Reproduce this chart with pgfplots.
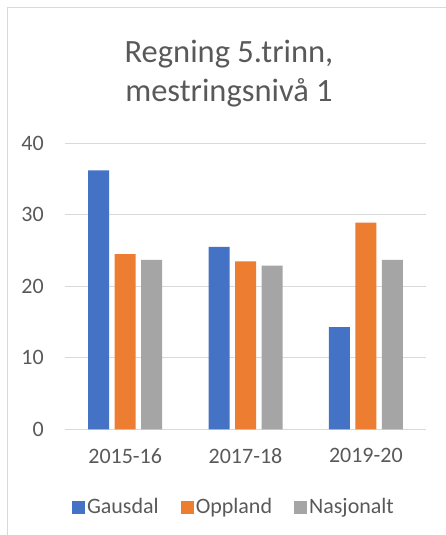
\documentclass[border=0pt]{standalone}
\usepackage{pgfplots}
\pgfplotsset{compat=1.18}
\usepackage{fontspec}
\setmainfont{Carlito}
\definecolor{cblue}{HTML}{4472C4}
\definecolor{corange}{HTML}{ED7D31}
\definecolor{cgray}{HTML}{A5A5A5}
\definecolor{ctext}{HTML}{595959}
\definecolor{cgrid}{HTML}{D9D9D9}
\begin{document}
\begin{tikzpicture}
\useasboundingbox (0pt,0pt) rectangle (445pt,535pt);
\draw[cgrid, line width=1.5pt] (7.5pt,-2pt) -- (7.5pt,527.5pt) -- (447pt,527.5pt);
\node[anchor=base, text=ctext, font=\fontsize{32.5}{38}\selectfont] at (229pt,472pt) {Regning 5.trinn,};
\node[anchor=base, text=ctext, font=\fontsize{32.5}{38}\selectfont] at (229pt,433.5pt) {mestringsnivå 1};
\begin{axis}[
  at={(65pt,105.7pt)}, anchor=south west,
  scale only axis, width=361pt, height=286pt,
  ymin=0, ymax=40, xmin=-0.5, xmax=2.5,
  ybar=5.5pt, bar width=21pt,
  axis line style={draw=none},
  major tick length=0pt,
  ytick={0,10,20,30,40},
  xtick={0,1,2}, xticklabels={2015-16,2017-18,2019-20},
  ymajorgrids, grid style={cgrid, line width=1.2pt},
  /pgf/number format/assume math mode=true,
  tick label style={text=ctext, font=\fontsize{22}{26}\selectfont},
  yticklabel style={anchor=east, inner sep=0pt, xshift=-21pt},
  xticklabel style={anchor=north, inner sep=0pt, yshift=-19pt},
  legend columns=3,
  legend style={at={(0.468,-0.272)}, anchor=center, draw=none, fill=none,
    font=\fontsize{22}{26}\selectfont, text=ctext,
    nodes={inner sep=2pt},
    /tikz/every even column/.append style={column sep=20pt}},
  legend image code/.code={\fill[#1,draw=none] (0pt,-6.5pt) rectangle (13pt,6.5pt);},
]
\addplot[fill=cblue, draw=none] coordinates {(0,36.2) (1,25.5) (2,14.3)};
\addplot[fill=corange, draw=none] coordinates {(0,24.5) (1,23.5) (2,28.9)};
\addplot[fill=cgray, draw=none] coordinates {(0,23.7) (1,22.9) (2,23.7)};
\legend{Gausdal,Oppland,Nasjonalt}
\end{axis}
\end{tikzpicture}
\end{document}
